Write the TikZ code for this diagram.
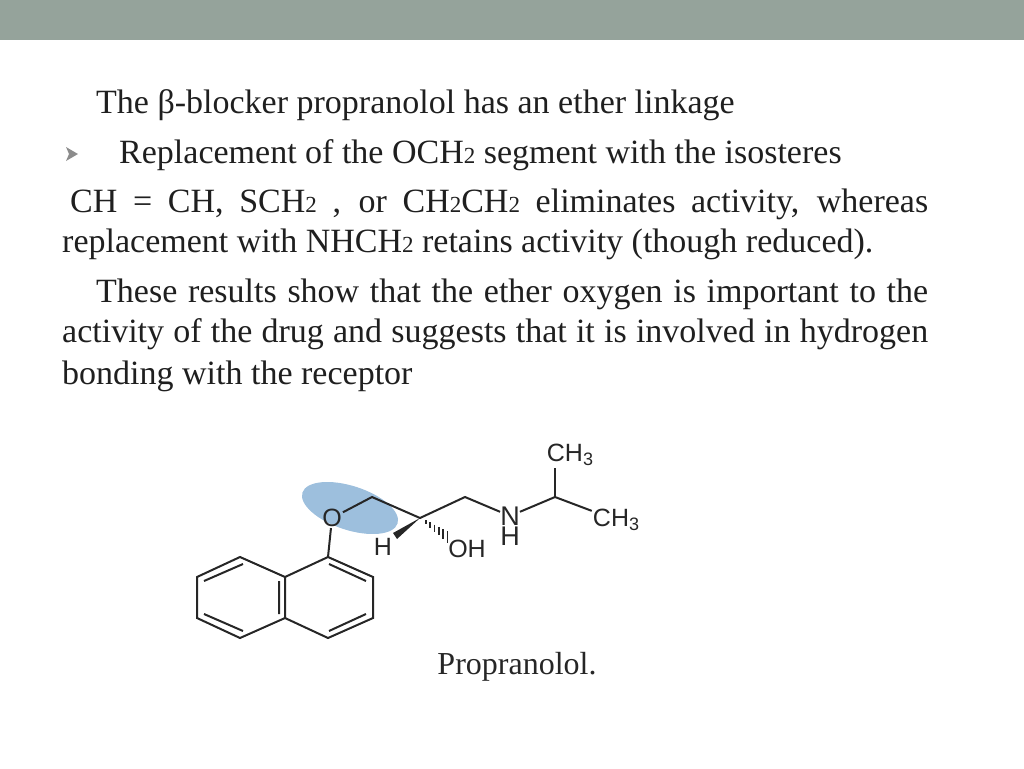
\documentclass[tikz,border=0pt]{standalone}
\usepackage{fontspec}
\usetikzlibrary{calc}
\setmainfont{Liberation Serif}
\newfontfamily\atomfont{Liberation Sans}
\newcommand\subn[1]{{\fontsize{23}{24}\selectfont #1}}
\begin{document}
\begin{tikzpicture}[x=1pt,y=-1pt,
  txt/.style={anchor=base west,inner sep=0pt,text=black!88,font=\fontsize{34}{38}\selectfont},
  atom/.style={inner sep=1pt,font=\atomfont\fontsize{25}{26}\selectfont,text=black!85},
  bond/.style={line width=2pt,black!85}]
\useasboundingbox (0,0) rectangle (1024,768);
\fill[fill={rgb,255:red,149;green,163;blue,155}] (0,0) rectangle (1024,40);
\node[txt] (l1) at (96,113) {The β-blocker propranolol has an ether linkage};
\fill[black!45] (66,147) -- (78,154) -- (66,161) -- (69,154) -- cycle;
\node[txt] (l2) at (119,163) {Replacement of the OCH\subn{2} segment with the isosteres};
\node[txt] (l3) at (70,212) {\makebox[858pt][s]{CH = CH, SCH\subn{2} , or CH\subn{2}CH\subn{2} eliminates activity, whereas}};
\node[txt] (l4) at (62,252) {replacement with NHCH\subn{2} retains activity (though reduced).};
\node[txt] (l5) at (96,302) {\makebox[832pt][s]{These results show that the ether oxygen is important to the}};
\node[txt] (l6) at (62,342) {\makebox[866pt][s]{activity of the drug and suggests that it is involved in hydrogen}};
\node[txt] (l7) at (62,384) {bonding with the receptor};
% molecule
\fill[fill={rgb,255:red,140;green,180;blue,215},opacity=0.85,rotate around={-18:(350,508)}] (350,508) ellipse (50 and 22);
\coordinate (a1) at (240,557); \coordinate (a2) at (197,577); \coordinate (a3) at (197,618);
\coordinate (a4) at (240,638); \coordinate (a5) at (285,618); \coordinate (a6) at (285,577);
\coordinate (b1) at (328,557); \coordinate (b2) at (373,577); \coordinate (b3) at (373,618);
\coordinate (b4) at (328,638);
\draw[bond] (a1)--(a2)--(a3)--(a4)--(a5)--(a6)--cycle;
\draw[bond] (a6)--(b1)--(b2)--(b3)--(b4)--(a5);
\draw[bond] (243,564)--(204,581) (204,614)--(243,631) (279,614)--(279,581)
            (329,564)--(366,581) (366,614)--(329,631);
\node[atom] (O) at (332,518) {O};
\coordinate (c1) at (372,497); \coordinate (c2) at (420,518); \coordinate (c3) at (465,497);
\node[atom,inner sep=0pt,font=\atomfont\fontsize{27}{28}\selectfont] (N) at (510,516) {N};
\node[atom,inner sep=0pt,font=\atomfont\fontsize{27}{28}\selectfont] (NHl) at (510,536) {H};
\coordinate (c4) at (555,497);
\node[atom] (m1) at (570,455) {CH\raisebox{-4pt}{\fontsize{18}{18}\selectfont 3}};
\node[atom] (m2) at (616,520) {CH\raisebox{-4pt}{\fontsize{18}{18}\selectfont 3}};
\node[atom] (H) at (383,547) {H};
\node[atom] (OH) at (467,549) {OH};
\draw[bond] (b1)--(O)--(c1)--(c2)--(c3)--(N)--(c4)--(m2);
\draw[bond] (c4)--(555,468);
\fill[black!85] (420,518) -- (393,533) -- (397,539) -- cycle;
\foreach \t in {0.2,0.35,0.5,0.65,0.8,0.95}{
  \draw[line width=1.6pt,black!85] ($(420,518)!\t!(449,538)+(0,{-1-5*\t})$) -- ($(420,518)!\t!(449,538)+(0,{1+5*\t})$);}
\node[inner sep=0pt,font=\fontsize{32}{34}\selectfont,text=black!85] (cap) at (517,667) {Propranolol.};
\end{tikzpicture}
\end{document}
